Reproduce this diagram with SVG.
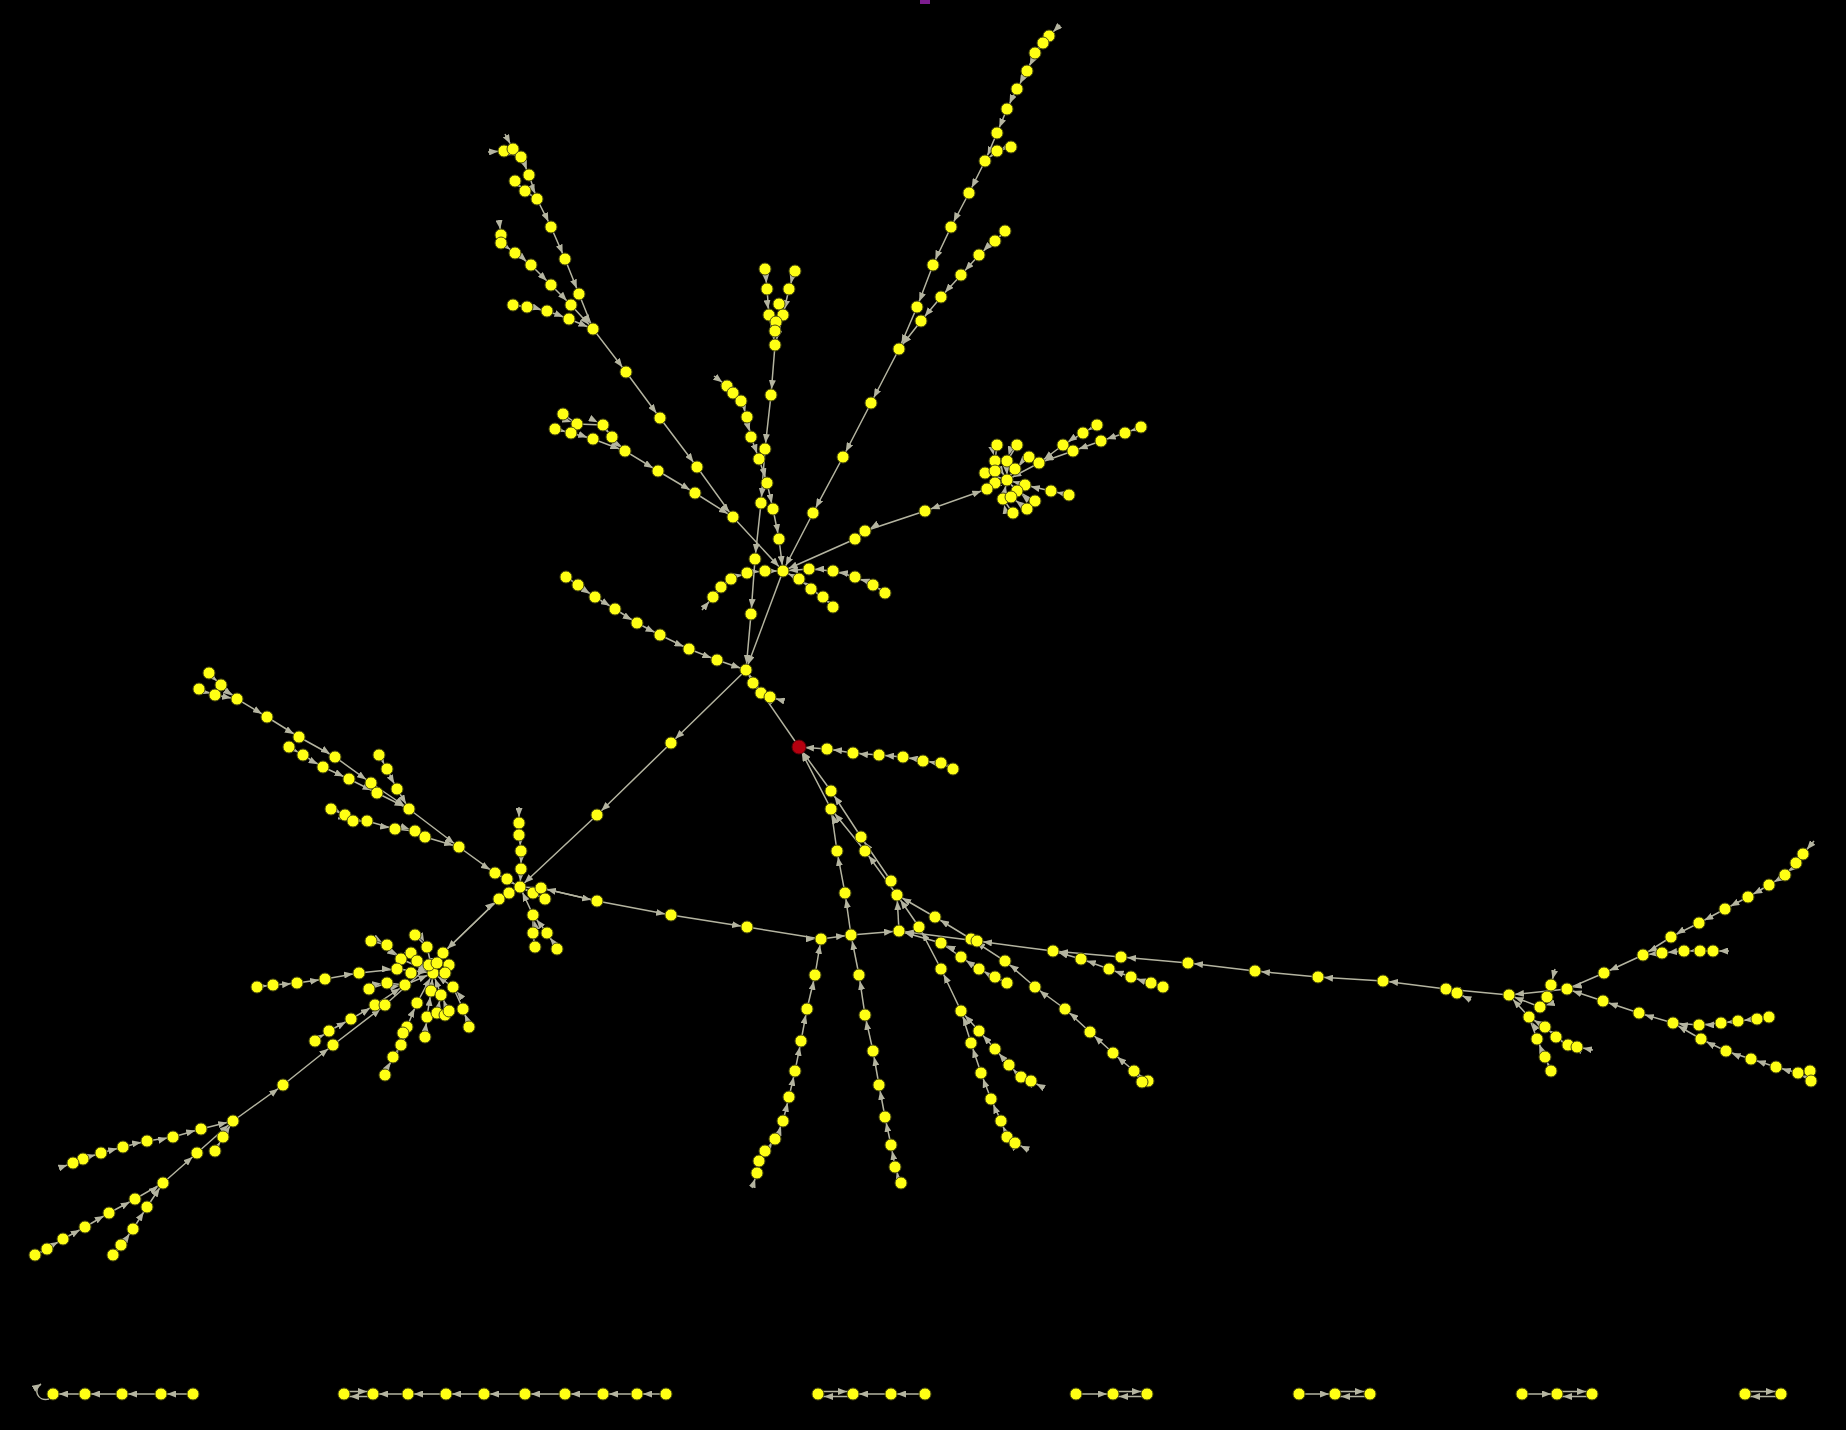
<svg xmlns="http://www.w3.org/2000/svg" width="1846" height="1430" viewBox="0 0 1846 1430">
<style>
#edges polyline,#edges line,#edges path{fill:none;stroke:#b4b4a0;stroke-width:1.5}
.f{marker-mid:url(#a);marker-end:url(#a)}
.b{marker-start:url(#as);marker-end:url(#a)}
.n circle{fill:#ffff14;stroke:#4a4a10;stroke-width:1}
.root circle{fill:#b5000f;stroke:#5a0008;stroke-width:1}
</style>
<defs>
<marker id="a" markerUnits="userSpaceOnUse" markerWidth="9" markerHeight="7" viewBox="0 0 9 7" refX="15" refY="3.5" orient="auto"><path d="M0,0L9,3.5L0,7z" fill="#b4b4a0"/></marker>
<marker id="as" markerUnits="userSpaceOnUse" markerWidth="9" markerHeight="7" viewBox="0 0 9 7" refX="15" refY="3.5" orient="auto-start-reverse"><path d="M0,0L9,3.5L0,7z" fill="#b4b4a0"/></marker>
<marker id="a0" markerUnits="userSpaceOnUse" markerWidth="9" markerHeight="7" viewBox="0 0 9 7" refX="9" refY="3.5" orient="auto"><path d="M0,0L9,3.5L0,7z" fill="#b4b4a0"/></marker>
</defs>
<rect width="1846" height="1430" fill="#000"/>
<g id="edges">
<polyline class="f" points="513,149 521,157 529,175 537,199 551,227 565,259 579,294 593,329 626,372 660,418 697,467 733,517 783,571"/>
<polyline class="f" points="504,151 521,157"/>
<polyline class="f" points="515,181 525,191 537,199"/>
<polyline class="f" points="501,243 515,253 531,265 551,285 571,305 593,329"/>
<polyline class="f" points="513,305 527,307 547,311 569,319 593,329"/>
<polyline class="f" points="563,414 577,424 603,425 612,437 625,451 658,471 695,493 733,517"/>
<polyline class="f" points="555,429 571,433 593,439 625,451"/>
<polyline class="f" points="765,269 767,289 769,315 775,345 771,395 765,449 761,503 755,559 751,614 746,670"/>
<polyline class="f" points="795,271 789,289 783,315 775,345"/>
<polyline class="f" points="727,386 733,393 741,401 747,417 751,437 759,459 767,483 773,509 779,539 783,571"/>
<polyline class="f" points="713,597 721,587 731,579 747,573 765,571 783,571"/>
<polyline class="f" points="885,593 873,585 855,577 833,571 809,569 783,571"/>
<polyline class="f" points="833,607 823,597 811,589 799,579 783,571"/>
<polyline class="f" points="1049,36 1043,43 1035,53 1027,71 1017,89 1007,109 997,133 985,161 969,193 951,227 933,265 917,307 899,349 871,403 843,457 813,513 783,571"/>
<polyline class="f" points="1011,147 997,151 985,161"/>
<polyline class="f" points="1005,231 995,241 979,255 961,275 941,297 921,321 899,349"/>
<polyline class="f" points="925,511 865,531 855,539 783,571"/>
<line class="b" x1="925" y1="511" x2="987" y2="489"/>
<polyline class="f" points="1097,425 1083,433 1063,445 1039,463"/>
<polyline class="f" points="1141,427 1125,433 1101,441 1073,451 1039,463 1007,480"/>
<polyline class="f" points="1029,457 1015,469 1007,480"/>
<polyline class="f" points="997,445 995,461 1007,480"/>
<polyline class="f" points="1017,445 1007,461 1007,480"/>
<polyline class="f" points="1069,495 1051,491 1025,485 1007,480"/>
<polyline class="f" points="1035,501 1017,491 1007,480"/>
<polyline class="f" points="1013,513 1003,499 1007,480"/>
<polyline class="f" points="1027,509 1011,497"/>
<polyline class="f" points="985,473 1007,480 987,489"/>
<polyline class="f" points="566,577 578,585 595,597 615,609 637,623 660,635 689,649 717,660 746,670"/>
<polyline class="f" points="783,571 746,670"/>
<polyline class="f" points="770,697 761,693 753,683 746,670"/>
<polyline class="f" points="799,747 746,670"/>
<polyline class="f" points="746,670 671,743 597,815 520,887"/>
<polyline class="f" points="953,769 941,763 923,761 903,757 879,755 853,753 827,749 799,747"/>
<polyline class="f" points="199,689 215,695 237,699"/>
<polyline class="f" points="209,673 221,685 237,699 267,717 299,737 335,757 371,783 409,809 459,847 495,873 520,887"/>
<polyline class="f" points="289,747 303,755 323,767 349,779 377,793 409,809"/>
<polyline class="f" points="379,755 387,769 397,789 409,809"/>
<polyline class="f" points="331,809 345,815 353,821 367,821 395,829 415,831 425,837 459,847"/>
<polyline class="f" points="519,823 519,835 521,851 521,869 520,887"/>
<polyline class="f" points="535,947 533,933 533,915 520,887"/>
<polyline class="f" points="557,949 547,933 533,915"/>
<polyline class="f" points="545,899 520,887"/>
<polyline class="f" points="233,1121 283,1085 333,1045 385,1005 443,953 499,899 520,887"/>
<polyline class="f" points="499,899 443,953"/>
<line x1="520" y1="887" x2="541" y2="888"/>
<polyline class="f" points="541,888 597,901 671,915 747,927 821,939 851,935 899,931"/>
<polyline class="f" points="597,901 541,888"/>
<polyline class="f" points="257,987 273,985 297,983 325,979 359,973 397,969 433,973"/>
<polyline class="f" points="371,941 387,945 401,959 433,973"/>
<polyline class="f" points="415,935 427,947 433,973"/>
<polyline class="f" points="411,953 417,961 433,973"/>
<polyline class="f" points="369,989 387,983 405,985 433,973"/>
<polyline class="f" points="315,1041 329,1031 351,1019 375,1005 405,985"/>
<polyline class="f" points="385,1075 393,1057 401,1045 407,1027 417,1003 433,973"/>
<polyline class="f" points="425,1037 427,1017 431,991 433,973"/>
<polyline class="f" points="449,1011 441,995 433,973"/>
<polyline class="f" points="437,1013 441,995"/>
<polyline class="f" points="469,1027 463,1009 453,987 433,973"/>
<polyline class="f" points="433,973 443,953"/>
<polyline class="f" points="73,1163 83,1159 101,1153 123,1147 147,1141 173,1137 201,1129 233,1121"/>
<polyline class="f" points="215,1151 223,1137 233,1121"/>
<polyline class="f" points="35,1255 47,1249 63,1239 85,1227 109,1213 135,1199 163,1183 197,1153 233,1121"/>
<polyline class="f" points="113,1255 121,1245 133,1229 147,1207 163,1183"/>
<polyline class="f" points="757,1173 759,1161 765,1151 775,1139 783,1121 789,1097 795,1071 801,1041 807,1009 815,975 821,939"/>
<polyline class="f" points="901,1183 895,1167 891,1145 885,1117 879,1085 873,1051 865,1015 859,975 851,935"/>
<polyline class="f" points="851,935 845,893 837,851 831,809 799,747"/>
<polyline class="f" points="897,895 865,851 831,809"/>
<polyline class="f" points="891,881 861,837 831,791 799,747"/>
<polyline class="f" points="899,931 897,895"/>
<polyline class="f" points="1142,1082 1134,1071"/>
<polyline class="f" points="1148,1081 1134,1071 1113,1053 1090,1032 1065,1009 1035,987 1005,961 971,939 935,917 897,895"/>
<polyline class="f" points="1015,1143 1007,1137 1001,1121 991,1099 981,1073 971,1043 961,1011 941,969 919,927 897,895"/>
<polyline class="f" points="1031,1081 1021,1077 1009,1065 995,1049 979,1031 961,1011"/>
<polyline class="f" points="1007,983 995,977 979,969 961,957 941,943 899,931"/>
<polyline class="f" points="1509,995 1446,989 1383,981 1318,977 1255,971 1188,963 1121,957 1053,951 977,941 899,931"/>
<polyline class="f" points="1163,987 1151,983 1131,977 1109,969 1081,959 1053,951"/>
<polyline class="f" points="1803,854 1796,863 1785,875 1769,885 1748,897 1725,909 1699,923 1671,937 1643,955 1604,973 1567,989 1509,995"/>
<polyline class="f" points="1713,951 1700,951 1684,951 1662,953 1643,955"/>
<polyline class="f" points="1769,1017 1757,1019 1738,1021 1721,1023 1699,1025 1673,1023 1639,1013 1603,1001 1567,989"/>
<polyline class="f" points="1811,1081 1798,1073 1776,1067 1751,1059 1726,1051 1701,1039 1673,1023"/>
<polyline class="f" points="1810,1071 1798,1073"/>
<polyline class="f" points="1551,985 1547,997 1540,1007 1509,995"/>
<polyline class="f" points="1551,1071 1545,1057 1537,1039 1529,1017 1509,995"/>
<polyline class="f" points="1577,1047 1568,1045 1556,1037 1545,1027 1529,1017"/>
<polyline class="f" points="488,152 504,151"/>
<polyline class="f" points="505,134 513,149"/>
<polyline class="f" points="499,220 501,235"/>
<polyline class="f" points="714,376 727,386"/>
<polyline class="f" points="1060,25 1049,36"/>
<polyline class="f" points="702,610 713,597"/>
<polyline class="f" points="519,807 519,823"/>
<polyline class="f" points="59,1168 73,1163"/>
<polyline class="f" points="752,1188 757,1173"/>
<polyline class="f" points="1029,1150 1015,1143"/>
<polyline class="f" points="1044,1088 1031,1081"/>
<polyline class="f" points="1814,841 1803,854"/>
<polyline class="f" points="1729,951 1713,951"/>
<polyline class="f" points="1555,969 1551,985"/>
<polyline class="f" points="1593,1050 1577,1047"/>
<polyline class="f" points="1471,1000 1457,993"/>
<polyline class="f" points="784,701 770,697"/>
<path d="M49,1399 C37,1402 33,1389 41,1384" marker-end="url(#a0)"/>
<polyline class="f" points="193,1394 161,1394 122,1394 85,1394 53,1394"/>
<polyline class="f" points="666,1394 637,1394 603,1394 565,1394 525,1394 484,1394 446,1394 408,1394 373,1394"/>
<line class="f" x1="344" y1="1391.5" x2="373" y2="1391.5"/>
<line class="f" x1="373" y1="1396.5" x2="344" y2="1396.5"/>
<polyline class="f" points="925,1394 891,1394 853,1394"/>
<line class="f" x1="818" y1="1391.5" x2="853" y2="1391.5"/>
<line class="f" x1="853" y1="1396.5" x2="818" y2="1396.5"/>
<polyline class="f" points="1076,1394 1113,1394"/>
<line class="f" x1="1113" y1="1391.5" x2="1147" y2="1391.5"/>
<line class="f" x1="1147" y1="1396.5" x2="1113" y2="1396.5"/>
<polyline class="f" points="1299,1394 1335,1394"/>
<line class="f" x1="1335" y1="1391.5" x2="1370" y2="1391.5"/>
<line class="f" x1="1370" y1="1396.5" x2="1335" y2="1396.5"/>
<polyline class="f" points="1522,1394 1557,1394"/>
<line class="f" x1="1557" y1="1391.5" x2="1592" y2="1391.5"/>
<line class="f" x1="1592" y1="1396.5" x2="1557" y2="1396.5"/>
<line class="f" x1="1745" y1="1391.5" x2="1781" y2="1391.5"/>
<line class="f" x1="1781" y1="1396.5" x2="1745" y2="1396.5"/>
</g>
<g id="nodes">
<g id="top"><rect x="920" y="0" width="10" height="4" fill="#7d1d8f"/></g>
<g id="hubA" class="n"><circle cx="783" cy="571" r="6"/></g>
<g id="hubB" class="n"><circle cx="746" cy="670" r="6"/></g>
<g id="hubC" class="n"><circle cx="520" cy="887" r="6"/></g>
<g id="hubD" class="n"><circle cx="433" cy="973" r="6"/></g>
<g id="hubE" class="n"><circle cx="233" cy="1121" r="6"/></g>
<g id="hubR" class="n"><circle cx="1509" cy="995" r="6"/></g>
<g id="n1" class="n"><circle cx="504" cy="151" r="6"/></g>
<g id="n2" class="n"><circle cx="513" cy="149" r="6"/></g>
<g id="n3" class="n"><circle cx="521" cy="157" r="6"/></g>
<g id="n4" class="n"><circle cx="529" cy="175" r="6"/></g>
<g id="n5" class="n"><circle cx="515" cy="181" r="6"/></g>
<g id="n6" class="n"><circle cx="525" cy="191" r="6"/></g>
<g id="n7" class="n"><circle cx="537" cy="199" r="6"/></g>
<g id="n8" class="n"><circle cx="551" cy="227" r="6"/></g>
<g id="n9" class="n"><circle cx="565" cy="259" r="6"/></g>
<g id="n10" class="n"><circle cx="579" cy="294" r="6"/></g>
<g id="n11" class="n"><circle cx="571" cy="305" r="6"/></g>
<g id="n12" class="n"><circle cx="593" cy="329" r="6"/></g>
<g id="n13" class="n"><circle cx="501" cy="235" r="6"/></g>
<g id="n14" class="n"><circle cx="501" cy="243" r="6"/></g>
<g id="n15" class="n"><circle cx="515" cy="253" r="6"/></g>
<g id="n16" class="n"><circle cx="531" cy="265" r="6"/></g>
<g id="n17" class="n"><circle cx="551" cy="285" r="6"/></g>
<g id="n18" class="n"><circle cx="513" cy="305" r="6"/></g>
<g id="n19" class="n"><circle cx="527" cy="307" r="6"/></g>
<g id="n20" class="n"><circle cx="547" cy="311" r="6"/></g>
<g id="n21" class="n"><circle cx="569" cy="319" r="6"/></g>
<g id="n22" class="n"><circle cx="626" cy="372" r="6"/></g>
<g id="n23" class="n"><circle cx="660" cy="418" r="6"/></g>
<g id="n24" class="n"><circle cx="697" cy="467" r="6"/></g>
<g id="n25" class="n"><circle cx="733" cy="517" r="6"/></g>
<g id="n26" class="n"><circle cx="563" cy="414" r="6"/></g>
<g id="n27" class="n"><circle cx="577" cy="424" r="6"/></g>
<g id="n28" class="n"><circle cx="603" cy="425" r="6"/></g>
<g id="n29" class="n"><circle cx="612" cy="437" r="6"/></g>
<g id="n30" class="n"><circle cx="625" cy="451" r="6"/></g>
<g id="n31" class="n"><circle cx="555" cy="429" r="6"/></g>
<g id="n32" class="n"><circle cx="571" cy="433" r="6"/></g>
<g id="n33" class="n"><circle cx="593" cy="439" r="6"/></g>
<g id="n34" class="n"><circle cx="658" cy="471" r="6"/></g>
<g id="n35" class="n"><circle cx="695" cy="493" r="6"/></g>
<g id="n36" class="n"><circle cx="765" cy="269" r="6"/></g>
<g id="n37" class="n"><circle cx="795" cy="271" r="6"/></g>
<g id="n38" class="n"><circle cx="767" cy="289" r="6"/></g>
<g id="n39" class="n"><circle cx="789" cy="289" r="6"/></g>
<g id="n40" class="n"><circle cx="779" cy="304" r="6"/></g>
<g id="n41" class="n"><circle cx="769" cy="315" r="6"/></g>
<g id="n42" class="n"><circle cx="783" cy="315" r="6"/></g>
<g id="n43" class="n"><circle cx="776" cy="322" r="6"/></g>
<g id="n44" class="n"><circle cx="775" cy="331" r="6"/></g>
<g id="n45" class="n"><circle cx="775" cy="345" r="6"/></g>
<g id="n46" class="n"><circle cx="771" cy="395" r="6"/></g>
<g id="n47" class="n"><circle cx="727" cy="386" r="6"/></g>
<g id="n48" class="n"><circle cx="733" cy="393" r="6"/></g>
<g id="n49" class="n"><circle cx="741" cy="401" r="6"/></g>
<g id="n50" class="n"><circle cx="747" cy="417" r="6"/></g>
<g id="n51" class="n"><circle cx="751" cy="437" r="6"/></g>
<g id="n52" class="n"><circle cx="765" cy="449" r="6"/></g>
<g id="n53" class="n"><circle cx="759" cy="459" r="6"/></g>
<g id="n54" class="n"><circle cx="767" cy="483" r="6"/></g>
<g id="n55" class="n"><circle cx="761" cy="503" r="6"/></g>
<g id="n56" class="n"><circle cx="773" cy="509" r="6"/></g>
<g id="n57" class="n"><circle cx="779" cy="539" r="6"/></g>
<g id="n58" class="n"><circle cx="755" cy="559" r="6"/></g>
<g id="n59" class="n"><circle cx="751" cy="614" r="6"/></g>
<g id="n60" class="n"><circle cx="765" cy="571" r="6"/></g>
<g id="n61" class="n"><circle cx="747" cy="573" r="6"/></g>
<g id="n62" class="n"><circle cx="731" cy="579" r="6"/></g>
<g id="n63" class="n"><circle cx="721" cy="587" r="6"/></g>
<g id="n64" class="n"><circle cx="713" cy="597" r="6"/></g>
<g id="n65" class="n"><circle cx="809" cy="569" r="6"/></g>
<g id="n66" class="n"><circle cx="833" cy="571" r="6"/></g>
<g id="n67" class="n"><circle cx="855" cy="577" r="6"/></g>
<g id="n68" class="n"><circle cx="873" cy="585" r="6"/></g>
<g id="n69" class="n"><circle cx="885" cy="593" r="6"/></g>
<g id="n70" class="n"><circle cx="799" cy="579" r="6"/></g>
<g id="n71" class="n"><circle cx="811" cy="589" r="6"/></g>
<g id="n72" class="n"><circle cx="823" cy="597" r="6"/></g>
<g id="n73" class="n"><circle cx="833" cy="607" r="6"/></g>
<g id="n74" class="n"><circle cx="855" cy="539" r="6"/></g>
<g id="n75" class="n"><circle cx="865" cy="531" r="6"/></g>
<g id="n76" class="n"><circle cx="813" cy="513" r="6"/></g>
<g id="n77" class="n"><circle cx="843" cy="457" r="6"/></g>
<g id="n78" class="n"><circle cx="871" cy="403" r="6"/></g>
<g id="n79" class="n"><circle cx="899" cy="349" r="6"/></g>
<g id="n80" class="n"><circle cx="917" cy="307" r="6"/></g>
<g id="n81" class="n"><circle cx="921" cy="321" r="6"/></g>
<g id="n82" class="n"><circle cx="1049" cy="36" r="6"/></g>
<g id="n83" class="n"><circle cx="1043" cy="43" r="6"/></g>
<g id="n84" class="n"><circle cx="1035" cy="53" r="6"/></g>
<g id="n85" class="n"><circle cx="1027" cy="71" r="6"/></g>
<g id="n86" class="n"><circle cx="1017" cy="89" r="6"/></g>
<g id="n87" class="n"><circle cx="1007" cy="109" r="6"/></g>
<g id="n88" class="n"><circle cx="997" cy="133" r="6"/></g>
<g id="n89" class="n"><circle cx="997" cy="151" r="6"/></g>
<g id="n90" class="n"><circle cx="1011" cy="147" r="6"/></g>
<g id="n91" class="n"><circle cx="985" cy="161" r="6"/></g>
<g id="n92" class="n"><circle cx="969" cy="193" r="6"/></g>
<g id="n93" class="n"><circle cx="951" cy="227" r="6"/></g>
<g id="n94" class="n"><circle cx="933" cy="265" r="6"/></g>
<g id="n95" class="n"><circle cx="1005" cy="231" r="6"/></g>
<g id="n96" class="n"><circle cx="995" cy="241" r="6"/></g>
<g id="n97" class="n"><circle cx="979" cy="255" r="6"/></g>
<g id="n98" class="n"><circle cx="961" cy="275" r="6"/></g>
<g id="n99" class="n"><circle cx="941" cy="297" r="6"/></g>
<g id="n100" class="n"><circle cx="997" cy="445" r="6"/></g>
<g id="n101" class="n"><circle cx="1017" cy="445" r="6"/></g>
<g id="n102" class="n"><circle cx="995" cy="461" r="6"/></g>
<g id="n103" class="n"><circle cx="1007" cy="461" r="6"/></g>
<g id="n104" class="n"><circle cx="1029" cy="457" r="6"/></g>
<g id="n105" class="n"><circle cx="1039" cy="463" r="6"/></g>
<g id="n106" class="n"><circle cx="1015" cy="469" r="6"/></g>
<g id="n107" class="n"><circle cx="985" cy="473" r="6"/></g>
<g id="n108" class="n"><circle cx="995" cy="471" r="6"/></g>
<g id="n109" class="n"><circle cx="1007" cy="480" r="6"/></g>
<g id="n110" class="n"><circle cx="995" cy="483" r="6"/></g>
<g id="n111" class="n"><circle cx="987" cy="489" r="6"/></g>
<g id="n112" class="n"><circle cx="1025" cy="485" r="6"/></g>
<g id="n113" class="n"><circle cx="1017" cy="491" r="6"/></g>
<g id="n114" class="n"><circle cx="1003" cy="499" r="6"/></g>
<g id="n115" class="n"><circle cx="1011" cy="497" r="6"/></g>
<g id="n116" class="n"><circle cx="1035" cy="501" r="6"/></g>
<g id="n117" class="n"><circle cx="1027" cy="509" r="6"/></g>
<g id="n118" class="n"><circle cx="1013" cy="513" r="6"/></g>
<g id="n119" class="n"><circle cx="1051" cy="491" r="6"/></g>
<g id="n120" class="n"><circle cx="1069" cy="495" r="6"/></g>
<g id="n121" class="n"><circle cx="1063" cy="445" r="6"/></g>
<g id="n122" class="n"><circle cx="1083" cy="433" r="6"/></g>
<g id="n123" class="n"><circle cx="1097" cy="425" r="6"/></g>
<g id="n124" class="n"><circle cx="1073" cy="451" r="6"/></g>
<g id="n125" class="n"><circle cx="1101" cy="441" r="6"/></g>
<g id="n126" class="n"><circle cx="1125" cy="433" r="6"/></g>
<g id="n127" class="n"><circle cx="1141" cy="427" r="6"/></g>
<g id="n128" class="n"><circle cx="925" cy="511" r="6"/></g>
<g id="n129" class="n"><circle cx="566" cy="577" r="6"/></g>
<g id="n130" class="n"><circle cx="578" cy="585" r="6"/></g>
<g id="n131" class="n"><circle cx="595" cy="597" r="6"/></g>
<g id="n132" class="n"><circle cx="615" cy="609" r="6"/></g>
<g id="n133" class="n"><circle cx="637" cy="623" r="6"/></g>
<g id="n134" class="n"><circle cx="660" cy="635" r="6"/></g>
<g id="n135" class="n"><circle cx="689" cy="649" r="6"/></g>
<g id="n136" class="n"><circle cx="717" cy="660" r="6"/></g>
<g id="n137" class="n"><circle cx="753" cy="683" r="6"/></g>
<g id="n138" class="n"><circle cx="761" cy="693" r="6"/></g>
<g id="n139" class="n"><circle cx="770" cy="697" r="6"/></g>
<g id="n140" class="n"><circle cx="827" cy="749" r="6"/></g>
<g id="n141" class="n"><circle cx="853" cy="753" r="6"/></g>
<g id="n142" class="n"><circle cx="879" cy="755" r="6"/></g>
<g id="n143" class="n"><circle cx="903" cy="757" r="6"/></g>
<g id="n144" class="n"><circle cx="923" cy="761" r="6"/></g>
<g id="n145" class="n"><circle cx="941" cy="763" r="6"/></g>
<g id="n146" class="n"><circle cx="953" cy="769" r="6"/></g>
<g id="n147" class="n"><circle cx="209" cy="673" r="6"/></g>
<g id="n148" class="n"><circle cx="221" cy="685" r="6"/></g>
<g id="n149" class="n"><circle cx="199" cy="689" r="6"/></g>
<g id="n150" class="n"><circle cx="215" cy="695" r="6"/></g>
<g id="n151" class="n"><circle cx="237" cy="699" r="6"/></g>
<g id="n152" class="n"><circle cx="267" cy="717" r="6"/></g>
<g id="n153" class="n"><circle cx="299" cy="737" r="6"/></g>
<g id="n154" class="n"><circle cx="289" cy="747" r="6"/></g>
<g id="n155" class="n"><circle cx="303" cy="755" r="6"/></g>
<g id="n156" class="n"><circle cx="323" cy="767" r="6"/></g>
<g id="n157" class="n"><circle cx="335" cy="757" r="6"/></g>
<g id="n158" class="n"><circle cx="349" cy="779" r="6"/></g>
<g id="n159" class="n"><circle cx="371" cy="783" r="6"/></g>
<g id="n160" class="n"><circle cx="377" cy="793" r="6"/></g>
<g id="n161" class="n"><circle cx="379" cy="755" r="6"/></g>
<g id="n162" class="n"><circle cx="387" cy="769" r="6"/></g>
<g id="n163" class="n"><circle cx="397" cy="789" r="6"/></g>
<g id="n164" class="n"><circle cx="409" cy="809" r="6"/></g>
<g id="n165" class="n"><circle cx="331" cy="809" r="6"/></g>
<g id="n166" class="n"><circle cx="345" cy="815" r="6"/></g>
<g id="n167" class="n"><circle cx="353" cy="821" r="6"/></g>
<g id="n168" class="n"><circle cx="367" cy="821" r="6"/></g>
<g id="n169" class="n"><circle cx="395" cy="829" r="6"/></g>
<g id="n170" class="n"><circle cx="415" cy="831" r="6"/></g>
<g id="n171" class="n"><circle cx="425" cy="837" r="6"/></g>
<g id="n172" class="n"><circle cx="459" cy="847" r="6"/></g>
<g id="n173" class="n"><circle cx="495" cy="873" r="6"/></g>
<g id="n174" class="n"><circle cx="507" cy="879" r="6"/></g>
<g id="n175" class="n"><circle cx="509" cy="893" r="6"/></g>
<g id="n176" class="n"><circle cx="499" cy="899" r="6"/></g>
<g id="n177" class="n"><circle cx="519" cy="823" r="6"/></g>
<g id="n178" class="n"><circle cx="519" cy="835" r="6"/></g>
<g id="n179" class="n"><circle cx="521" cy="851" r="6"/></g>
<g id="n180" class="n"><circle cx="521" cy="869" r="6"/></g>
<g id="n181" class="n"><circle cx="533" cy="893" r="6"/></g>
<g id="n182" class="n"><circle cx="541" cy="888" r="6"/></g>
<g id="n183" class="n"><circle cx="545" cy="899" r="6"/></g>
<g id="n184" class="n"><circle cx="533" cy="915" r="6"/></g>
<g id="n185" class="n"><circle cx="533" cy="933" r="6"/></g>
<g id="n186" class="n"><circle cx="535" cy="947" r="6"/></g>
<g id="n187" class="n"><circle cx="547" cy="933" r="6"/></g>
<g id="n188" class="n"><circle cx="557" cy="949" r="6"/></g>
<g id="n189" class="n"><circle cx="671" cy="743" r="6"/></g>
<g id="n190" class="n"><circle cx="597" cy="815" r="6"/></g>
<g id="n191" class="n"><circle cx="371" cy="941" r="6"/></g>
<g id="n192" class="n"><circle cx="387" cy="945" r="6"/></g>
<g id="n193" class="n"><circle cx="415" cy="935" r="6"/></g>
<g id="n194" class="n"><circle cx="427" cy="947" r="6"/></g>
<g id="n195" class="n"><circle cx="443" cy="953" r="6"/></g>
<g id="n196" class="n"><circle cx="401" cy="959" r="6"/></g>
<g id="n197" class="n"><circle cx="411" cy="953" r="6"/></g>
<g id="n198" class="n"><circle cx="417" cy="961" r="6"/></g>
<g id="n199" class="n"><circle cx="429" cy="965" r="6"/></g>
<g id="n200" class="n"><circle cx="437" cy="963" r="6"/></g>
<g id="n201" class="n"><circle cx="449" cy="965" r="6"/></g>
<g id="n202" class="n"><circle cx="397" cy="969" r="6"/></g>
<g id="n203" class="n"><circle cx="411" cy="973" r="6"/></g>
<g id="n204" class="n"><circle cx="445" cy="973" r="6"/></g>
<g id="n205" class="n"><circle cx="453" cy="987" r="6"/></g>
<g id="n206" class="n"><circle cx="257" cy="987" r="6"/></g>
<g id="n207" class="n"><circle cx="273" cy="985" r="6"/></g>
<g id="n208" class="n"><circle cx="297" cy="983" r="6"/></g>
<g id="n209" class="n"><circle cx="325" cy="979" r="6"/></g>
<g id="n210" class="n"><circle cx="359" cy="973" r="6"/></g>
<g id="n211" class="n"><circle cx="369" cy="989" r="6"/></g>
<g id="n212" class="n"><circle cx="387" cy="983" r="6"/></g>
<g id="n213" class="n"><circle cx="405" cy="985" r="6"/></g>
<g id="n214" class="n"><circle cx="431" cy="991" r="6"/></g>
<g id="n215" class="n"><circle cx="441" cy="995" r="6"/></g>
<g id="n216" class="n"><circle cx="417" cy="1003" r="6"/></g>
<g id="n217" class="n"><circle cx="463" cy="1009" r="6"/></g>
<g id="n218" class="n"><circle cx="469" cy="1027" r="6"/></g>
<g id="n219" class="n"><circle cx="427" cy="1017" r="6"/></g>
<g id="n220" class="n"><circle cx="437" cy="1013" r="6"/></g>
<g id="n221" class="n"><circle cx="445" cy="1015" r="6"/></g>
<g id="n222" class="n"><circle cx="449" cy="1011" r="6"/></g>
<g id="n223" class="n"><circle cx="425" cy="1037" r="6"/></g>
<g id="n224" class="n"><circle cx="407" cy="1027" r="6"/></g>
<g id="n225" class="n"><circle cx="403" cy="1033" r="6"/></g>
<g id="n226" class="n"><circle cx="401" cy="1045" r="6"/></g>
<g id="n227" class="n"><circle cx="393" cy="1057" r="6"/></g>
<g id="n228" class="n"><circle cx="385" cy="1075" r="6"/></g>
<g id="n229" class="n"><circle cx="375" cy="1005" r="6"/></g>
<g id="n230" class="n"><circle cx="385" cy="1005" r="6"/></g>
<g id="n231" class="n"><circle cx="351" cy="1019" r="6"/></g>
<g id="n232" class="n"><circle cx="329" cy="1031" r="6"/></g>
<g id="n233" class="n"><circle cx="315" cy="1041" r="6"/></g>
<g id="n234" class="n"><circle cx="333" cy="1045" r="6"/></g>
<g id="n235" class="n"><circle cx="283" cy="1085" r="6"/></g>
<g id="n236" class="n"><circle cx="201" cy="1129" r="6"/></g>
<g id="n237" class="n"><circle cx="173" cy="1137" r="6"/></g>
<g id="n238" class="n"><circle cx="147" cy="1141" r="6"/></g>
<g id="n239" class="n"><circle cx="123" cy="1147" r="6"/></g>
<g id="n240" class="n"><circle cx="101" cy="1153" r="6"/></g>
<g id="n241" class="n"><circle cx="83" cy="1159" r="6"/></g>
<g id="n242" class="n"><circle cx="73" cy="1163" r="6"/></g>
<g id="n243" class="n"><circle cx="223" cy="1137" r="6"/></g>
<g id="n244" class="n"><circle cx="215" cy="1151" r="6"/></g>
<g id="n245" class="n"><circle cx="197" cy="1153" r="6"/></g>
<g id="n246" class="n"><circle cx="163" cy="1183" r="6"/></g>
<g id="n247" class="n"><circle cx="135" cy="1199" r="6"/></g>
<g id="n248" class="n"><circle cx="109" cy="1213" r="6"/></g>
<g id="n249" class="n"><circle cx="85" cy="1227" r="6"/></g>
<g id="n250" class="n"><circle cx="63" cy="1239" r="6"/></g>
<g id="n251" class="n"><circle cx="47" cy="1249" r="6"/></g>
<g id="n252" class="n"><circle cx="35" cy="1255" r="6"/></g>
<g id="n253" class="n"><circle cx="147" cy="1207" r="6"/></g>
<g id="n254" class="n"><circle cx="133" cy="1229" r="6"/></g>
<g id="n255" class="n"><circle cx="121" cy="1245" r="6"/></g>
<g id="n256" class="n"><circle cx="113" cy="1255" r="6"/></g>
<g id="n257" class="n"><circle cx="747" cy="927" r="6"/></g>
<g id="n258" class="n"><circle cx="671" cy="915" r="6"/></g>
<g id="n259" class="n"><circle cx="597" cy="901" r="6"/></g>
<g id="n260" class="n"><circle cx="821" cy="939" r="6"/></g>
<g id="n261" class="n"><circle cx="851" cy="935" r="6"/></g>
<g id="n262" class="n"><circle cx="899" cy="931" r="6"/></g>
<g id="n263" class="n"><circle cx="831" cy="791" r="6"/></g>
<g id="n264" class="n"><circle cx="831" cy="809" r="6"/></g>
<g id="n265" class="n"><circle cx="861" cy="837" r="6"/></g>
<g id="n266" class="n"><circle cx="865" cy="851" r="6"/></g>
<g id="n267" class="n"><circle cx="837" cy="851" r="6"/></g>
<g id="n268" class="n"><circle cx="845" cy="893" r="6"/></g>
<g id="n269" class="n"><circle cx="891" cy="881" r="6"/></g>
<g id="n270" class="n"><circle cx="897" cy="895" r="6"/></g>
<g id="n271" class="n"><circle cx="935" cy="917" r="6"/></g>
<g id="n272" class="n"><circle cx="919" cy="927" r="6"/></g>
<g id="n273" class="n"><circle cx="941" cy="943" r="6"/></g>
<g id="n274" class="n"><circle cx="971" cy="939" r="6"/></g>
<g id="n275" class="n"><circle cx="977" cy="941" r="6"/></g>
<g id="n276" class="n"><circle cx="961" cy="957" r="6"/></g>
<g id="n277" class="n"><circle cx="979" cy="969" r="6"/></g>
<g id="n278" class="n"><circle cx="995" cy="977" r="6"/></g>
<g id="n279" class="n"><circle cx="1007" cy="983" r="6"/></g>
<g id="n280" class="n"><circle cx="1005" cy="961" r="6"/></g>
<g id="n281" class="n"><circle cx="1035" cy="987" r="6"/></g>
<g id="n282" class="n"><circle cx="1053" cy="951" r="6"/></g>
<g id="n283" class="n"><circle cx="1081" cy="959" r="6"/></g>
<g id="n284" class="n"><circle cx="1109" cy="969" r="6"/></g>
<g id="n285" class="n"><circle cx="1131" cy="977" r="6"/></g>
<g id="n286" class="n"><circle cx="1151" cy="983" r="6"/></g>
<g id="n287" class="n"><circle cx="1163" cy="987" r="6"/></g>
<g id="n288" class="n"><circle cx="1121" cy="957" r="6"/></g>
<g id="n289" class="n"><circle cx="941" cy="969" r="6"/></g>
<g id="n290" class="n"><circle cx="815" cy="975" r="6"/></g>
<g id="n291" class="n"><circle cx="807" cy="1009" r="6"/></g>
<g id="n292" class="n"><circle cx="801" cy="1041" r="6"/></g>
<g id="n293" class="n"><circle cx="795" cy="1071" r="6"/></g>
<g id="n294" class="n"><circle cx="789" cy="1097" r="6"/></g>
<g id="n295" class="n"><circle cx="783" cy="1121" r="6"/></g>
<g id="n296" class="n"><circle cx="775" cy="1139" r="6"/></g>
<g id="n297" class="n"><circle cx="765" cy="1151" r="6"/></g>
<g id="n298" class="n"><circle cx="759" cy="1161" r="6"/></g>
<g id="n299" class="n"><circle cx="757" cy="1173" r="6"/></g>
<g id="n300" class="n"><circle cx="859" cy="975" r="6"/></g>
<g id="n301" class="n"><circle cx="865" cy="1015" r="6"/></g>
<g id="n302" class="n"><circle cx="873" cy="1051" r="6"/></g>
<g id="n303" class="n"><circle cx="879" cy="1085" r="6"/></g>
<g id="n304" class="n"><circle cx="885" cy="1117" r="6"/></g>
<g id="n305" class="n"><circle cx="891" cy="1145" r="6"/></g>
<g id="n306" class="n"><circle cx="895" cy="1167" r="6"/></g>
<g id="n307" class="n"><circle cx="901" cy="1183" r="6"/></g>
<g id="n308" class="n"><circle cx="961" cy="1011" r="6"/></g>
<g id="n309" class="n"><circle cx="971" cy="1043" r="6"/></g>
<g id="n310" class="n"><circle cx="981" cy="1073" r="6"/></g>
<g id="n311" class="n"><circle cx="991" cy="1099" r="6"/></g>
<g id="n312" class="n"><circle cx="1001" cy="1121" r="6"/></g>
<g id="n313" class="n"><circle cx="1007" cy="1137" r="6"/></g>
<g id="n314" class="n"><circle cx="1015" cy="1143" r="6"/></g>
<g id="n315" class="n"><circle cx="979" cy="1031" r="6"/></g>
<g id="n316" class="n"><circle cx="995" cy="1049" r="6"/></g>
<g id="n317" class="n"><circle cx="1009" cy="1065" r="6"/></g>
<g id="n318" class="n"><circle cx="1021" cy="1077" r="6"/></g>
<g id="n319" class="n"><circle cx="1031" cy="1081" r="6"/></g>
<g id="n320" class="n"><circle cx="1065" cy="1009" r="6"/></g>
<g id="n321" class="n"><circle cx="1090" cy="1032" r="6"/></g>
<g id="n322" class="n"><circle cx="1113" cy="1053" r="6"/></g>
<g id="n323" class="n"><circle cx="1134" cy="1071" r="6"/></g>
<g id="n324" class="n"><circle cx="1148" cy="1081" r="6"/></g>
<g id="n325" class="n"><circle cx="1142" cy="1082" r="6"/></g>
<g id="n326" class="n"><circle cx="1188" cy="963" r="6"/></g>
<g id="n327" class="n"><circle cx="1255" cy="971" r="6"/></g>
<g id="n328" class="n"><circle cx="1318" cy="977" r="6"/></g>
<g id="n329" class="n"><circle cx="1383" cy="981" r="6"/></g>
<g id="n330" class="n"><circle cx="1446" cy="989" r="6"/></g>
<g id="n331" class="n"><circle cx="1457" cy="993" r="6"/></g>
<g id="n332" class="n"><circle cx="1551" cy="985" r="6"/></g>
<g id="n333" class="n"><circle cx="1567" cy="989" r="6"/></g>
<g id="n334" class="n"><circle cx="1547" cy="997" r="6"/></g>
<g id="n335" class="n"><circle cx="1540" cy="1007" r="6"/></g>
<g id="n336" class="n"><circle cx="1529" cy="1017" r="6"/></g>
<g id="n337" class="n"><circle cx="1545" cy="1027" r="6"/></g>
<g id="n338" class="n"><circle cx="1556" cy="1037" r="6"/></g>
<g id="n339" class="n"><circle cx="1568" cy="1045" r="6"/></g>
<g id="n340" class="n"><circle cx="1577" cy="1047" r="6"/></g>
<g id="n341" class="n"><circle cx="1537" cy="1039" r="6"/></g>
<g id="n342" class="n"><circle cx="1545" cy="1057" r="6"/></g>
<g id="n343" class="n"><circle cx="1551" cy="1071" r="6"/></g>
<g id="n344" class="n"><circle cx="1604" cy="973" r="6"/></g>
<g id="n345" class="n"><circle cx="1643" cy="955" r="6"/></g>
<g id="n346" class="n"><circle cx="1662" cy="953" r="6"/></g>
<g id="n347" class="n"><circle cx="1684" cy="951" r="6"/></g>
<g id="n348" class="n"><circle cx="1700" cy="951" r="6"/></g>
<g id="n349" class="n"><circle cx="1713" cy="951" r="6"/></g>
<g id="n350" class="n"><circle cx="1671" cy="937" r="6"/></g>
<g id="n351" class="n"><circle cx="1699" cy="923" r="6"/></g>
<g id="n352" class="n"><circle cx="1725" cy="909" r="6"/></g>
<g id="n353" class="n"><circle cx="1748" cy="897" r="6"/></g>
<g id="n354" class="n"><circle cx="1769" cy="885" r="6"/></g>
<g id="n355" class="n"><circle cx="1785" cy="875" r="6"/></g>
<g id="n356" class="n"><circle cx="1796" cy="863" r="6"/></g>
<g id="n357" class="n"><circle cx="1803" cy="854" r="6"/></g>
<g id="n358" class="n"><circle cx="1603" cy="1001" r="6"/></g>
<g id="n359" class="n"><circle cx="1639" cy="1013" r="6"/></g>
<g id="n360" class="n"><circle cx="1673" cy="1023" r="6"/></g>
<g id="n361" class="n"><circle cx="1699" cy="1025" r="6"/></g>
<g id="n362" class="n"><circle cx="1721" cy="1023" r="6"/></g>
<g id="n363" class="n"><circle cx="1738" cy="1021" r="6"/></g>
<g id="n364" class="n"><circle cx="1757" cy="1019" r="6"/></g>
<g id="n365" class="n"><circle cx="1769" cy="1017" r="6"/></g>
<g id="n366" class="n"><circle cx="1701" cy="1039" r="6"/></g>
<g id="n367" class="n"><circle cx="1726" cy="1051" r="6"/></g>
<g id="n368" class="n"><circle cx="1751" cy="1059" r="6"/></g>
<g id="n369" class="n"><circle cx="1776" cy="1067" r="6"/></g>
<g id="n370" class="n"><circle cx="1798" cy="1073" r="6"/></g>
<g id="n371" class="n"><circle cx="1810" cy="1071" r="6"/></g>
<g id="n372" class="n"><circle cx="1811" cy="1081" r="6"/></g>
<g id="b1" class="n"><circle cx="53" cy="1394" r="6"/></g>
<g id="b2" class="n"><circle cx="85" cy="1394" r="6"/></g>
<g id="b3" class="n"><circle cx="122" cy="1394" r="6"/></g>
<g id="b4" class="n"><circle cx="161" cy="1394" r="6"/></g>
<g id="b5" class="n"><circle cx="193" cy="1394" r="6"/></g>
<g id="b6" class="n"><circle cx="344" cy="1394" r="6"/></g>
<g id="b7" class="n"><circle cx="373" cy="1394" r="6"/></g>
<g id="b8" class="n"><circle cx="408" cy="1394" r="6"/></g>
<g id="b9" class="n"><circle cx="446" cy="1394" r="6"/></g>
<g id="b10" class="n"><circle cx="484" cy="1394" r="6"/></g>
<g id="b11" class="n"><circle cx="525" cy="1394" r="6"/></g>
<g id="b12" class="n"><circle cx="565" cy="1394" r="6"/></g>
<g id="b13" class="n"><circle cx="603" cy="1394" r="6"/></g>
<g id="b14" class="n"><circle cx="637" cy="1394" r="6"/></g>
<g id="b15" class="n"><circle cx="666" cy="1394" r="6"/></g>
<g id="b16" class="n"><circle cx="818" cy="1394" r="6"/></g>
<g id="b17" class="n"><circle cx="853" cy="1394" r="6"/></g>
<g id="b18" class="n"><circle cx="891" cy="1394" r="6"/></g>
<g id="b19" class="n"><circle cx="925" cy="1394" r="6"/></g>
<g id="b20" class="n"><circle cx="1076" cy="1394" r="6"/></g>
<g id="b21" class="n"><circle cx="1113" cy="1394" r="6"/></g>
<g id="b22" class="n"><circle cx="1147" cy="1394" r="6"/></g>
<g id="b23" class="n"><circle cx="1299" cy="1394" r="6"/></g>
<g id="b24" class="n"><circle cx="1335" cy="1394" r="6"/></g>
<g id="b25" class="n"><circle cx="1370" cy="1394" r="6"/></g>
<g id="b26" class="n"><circle cx="1522" cy="1394" r="6"/></g>
<g id="b27" class="n"><circle cx="1557" cy="1394" r="6"/></g>
<g id="b28" class="n"><circle cx="1592" cy="1394" r="6"/></g>
<g id="b29" class="n"><circle cx="1745" cy="1394" r="6"/></g>
<g id="b30" class="n"><circle cx="1781" cy="1394" r="6"/></g>
<g id="root" class="root"><circle cx="799" cy="747" r="7"/></g>
</g>
</svg>
